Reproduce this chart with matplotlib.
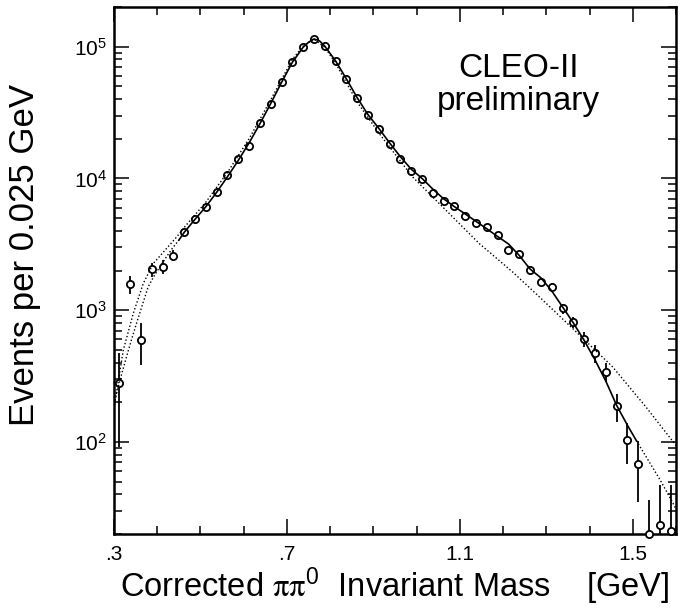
import numpy as np
import matplotlib
matplotlib.use('Agg')
import matplotlib.pyplot as plt
from matplotlib.ticker import FixedLocator, MultipleLocator, LogLocator, FuncFormatter, NullFormatter

plt.rcParams['font.family'] = ['Liberation Sans', 'DejaVu Sans']
plt.rcParams['mathtext.fontset'] = 'stix'

# ---- data points (bin centres, events per 0.025 GeV, errors) ----
mass = [0.3125, 0.3375, 0.3625, 0.3875, 0.4125, 0.4375, 0.4625, 0.4875, 0.5125, 0.5375,
        0.5625, 0.5875, 0.6125, 0.6375, 0.6625, 0.6875, 0.7125, 0.7375, 0.7625, 0.7875,
        0.8125, 0.8375, 0.8625, 0.8875, 0.9125, 0.9375, 0.9625, 0.9875, 1.0125, 1.0375,
        1.0625, 1.0875, 1.1125, 1.1375, 1.1625, 1.1875, 1.2125, 1.2375, 1.2625, 1.2875,
        1.3125, 1.3375, 1.3625, 1.3875, 1.4125, 1.4375, 1.4625, 1.4875, 1.5125, 1.5375,
        1.5625, 1.5875]
events = [281, 1574, 593, 2046, 2128, 2596, 3920, 4950, 6030, 7830,
          10540, 14100, 17470, 26200, 36800, 53700, 76500, 99500, 114000, 102000,
          78300, 56900, 40600, 30200, 23600, 18200, 14000, 11350, 9880, 7740,
          6780, 6140, 5150, 4590, 4260, 3750, 2880, 2690, 2030, 1630,
          1500, 1030, 807, 607, 472, 341, 187, 103, 67.8, 20,
          23.4, 20.9]
errors = [190, 240, 210, 250, 260, 250, 200, 200, 220, 250,
          300, 330, 370, 440, 520, 640, 760, 860, 920, 880,
          770, 660, 550, 480, 420, 370, 330, 300, 280, 250,
          230, 220, 200, 190, 180, 170, 150, 145, 130, 115,
          110, 90, 80, 80, 72, 55, 45, 35, 33, 16,
          24, 26]

# ---- fit curve (solid inside fit range, dotted outside) ----
fit_mass = [0.300, 0.306, 0.318, 0.329, 0.340, 0.352, 0.365, 0.379, 0.392, 0.406,
            0.420, 0.435, 0.450, 0.4625, 0.4875, 0.5125, 0.5375, 0.5625, 0.5875, 0.6125,
            0.6375, 0.6625, 0.6875, 0.7125, 0.7375, 0.750, 0.7625, 0.775, 0.7875, 0.8125,
            0.8375, 0.8625, 0.8875, 0.9125, 0.9375, 0.9625, 0.9875, 1.0125, 1.0375, 1.0625,
            1.0875, 1.1125, 1.1375, 1.1625, 1.1875, 1.2125, 1.2375, 1.2625, 1.2875, 1.3125,
            1.3375, 1.3625, 1.3875, 1.4125, 1.4375, 1.4625, 1.4875, 1.5085, 1.5375, 1.5625,
            1.5875, 1.600]
fit_vals = [195, 234, 330, 443, 590, 793, 1080, 1502, 1800, 2128,
            2500, 2950, 3400, 3900, 4900, 6100, 7850, 10300, 13700, 18600,
            26000, 37000, 53500, 76000, 99000, 108000, 114500, 111000, 101000, 78000,
            57000, 41000, 30500, 24000, 18600, 14600, 11750, 10000, 8300, 7000,
            6100, 5370, 4720, 4140, 3620, 3180, 2600, 2050, 1760, 1400,
            1060, 800, 590, 420, 290, 190, 134, 102, 71, 52,
            37, 31]
fit_lo, fit_hi = 0.45, 1.5085

# ---- alternative model curve (dotted) ----
alt_mass = [0.300, 0.3215, 0.3446, 0.3677, 0.3908, 0.4448, 0.4625, 0.5125, 0.5625, 0.6125,
            0.6625, 0.7125, 0.7375, 0.7625, 0.7875, 0.8125, 0.8625, 0.914, 0.991, 1.068,
            1.145, 1.222, 1.2838, 1.3608, 1.4531, 1.530, 1.600]
alt_vals = [180, 498, 944, 1592, 2258, 3590, 4250, 6600, 11100, 20000,
            39500, 80000, 101000, 114000, 99000, 75000, 38000, 21800, 10230, 5730,
            3200, 1950, 1262, 727, 372, 185, 94]

xticks = [0.3, 0.7, 1.1, 1.5]
xticklabels = ['.3', '.7', '1.1', '1.5']

fig = plt.figure(figsize=(6.81, 6.09), dpi=100)
ax = fig.add_axes([114/681, 75/609, 562/681, 527/609])

fm = np.array(fit_mass)
fv = np.array(fit_vals)
inside = (fm >= fit_lo) & (fm <= fit_hi)
low = fm <= fit_lo
high = fm >= fit_hi
dot = (0, (1, 1.6))
ax.plot(fm[inside], fv[inside], color='black', lw=1.2, zorder=4)
ax.plot(fm[low], fv[low], color='black', lw=1.0, ls=dot, zorder=4)
ax.plot(fm[high], fv[high], color='black', lw=1.0, ls=dot, zorder=4)
ax.plot(alt_mass, alt_vals, color='black', lw=1.0, ls=dot, zorder=4)

ax.errorbar(mass, events, yerr=errors, fmt='none', ecolor='black', elinewidth=1.3, zorder=2)
ax.plot(mass, events, 'o', ms=5.2, mfc='white', mec='black', mew=1.3, zorder=3, clip_on=False)

ax.set_yscale('log')
ax.set_xlim(0.3, 1.6)
ax.set_ylim(20, 2.0e5)

ax.xaxis.set_major_locator(FixedLocator(xticks))
ax.set_xticklabels(xticklabels)
ax.xaxis.set_minor_locator(MultipleLocator(0.1))
ax.yaxis.set_major_locator(LogLocator(base=10, numticks=10))
ax.yaxis.set_minor_locator(LogLocator(base=10, subs=np.arange(2, 10), numticks=20))
ax.yaxis.set_major_formatter(FuncFormatter(lambda v, p: r'$\mathdefault{10^{%d}}$' % round(np.log10(v))))
ax.yaxis.set_minor_formatter(NullFormatter())

ax.tick_params(which='both', direction='in', top=True, right=True, width=1.1, labelsize=15)
ax.tick_params(which='major', length=11)
ax.tick_params(which='minor', length=6)
ax.tick_params(axis='x', which='major', pad=8)
ax.tick_params(axis='y', which='major', pad=5)
for s in ax.spines.values():
    s.set_linewidth(1.8)

ax.set_xlabel(r'Corrected $\mathrm{\pi\pi}^{\mathdefault{0}}$  Invariant Mass    [GeV]', fontsize=23.5, labelpad=1)
ax.set_ylabel('Events per 0.025 GeV', fontsize=25)
ax.yaxis.set_label_coords(-0.13, 0.53)

ax.text(0.719, 0.852, 'CLEO-II\npreliminary', transform=ax.transAxes, ha='center', va='center',
        fontsize=24, linespacing=1.05)

fig.savefig('out.png', dpi=100)
